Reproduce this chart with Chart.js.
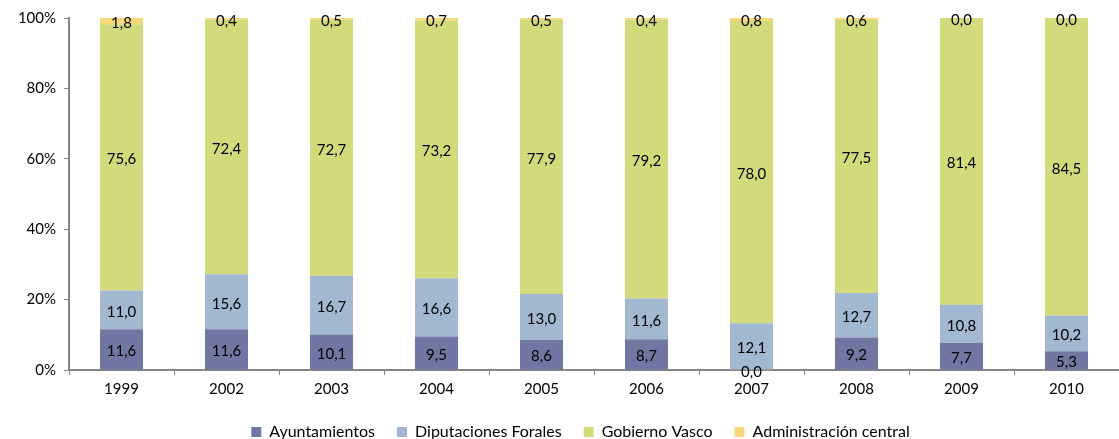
<!DOCTYPE html>
<html>
<head>
<meta charset="utf-8">
<script src="https://cdn.jsdelivr.net/npm/chart.js@4/dist/chart.umd.min.js"></script>
<style>
  html, body { margin: 0; padding: 0; background: #fff; }
  #wrap { width: 1119px; height: 439px; }
</style>
</head>
<body>
<div id="wrap"><canvas id="grafico"></canvas></div>
<script>
// datos del grafico
var anios = ['1999', '2002', '2003', '2004', '2005', '2006', '2007', '2008', '2009', '2010'];
var ayuntamientos = [11.6, 11.6, 10.1, 9.5, 8.6, 8.7, 0.0, 9.2, 7.7, 5.3];
var diputaciones = [11.0, 15.6, 16.7, 16.6, 13.0, 11.6, 12.1, 12.7, 10.8, 10.2];
var gobiernoVasco = [75.6, 72.4, 72.7, 73.2, 77.9, 79.2, 78.0, 77.5, 81.4, 84.5];
var administracion = [1.8, 0.4, 0.5, 0.7, 0.5, 0.4, 0.8, 0.6, 0.0, 0.0];
var ticksY = [0, 20, 40, 60, 80, 100];

var fuente = 'Lato, Calibri, sans-serif';

// total de cada anio para pasar a 100%
var totales = anios.map(function (a, i) {
    return ayuntamientos[i] + diputaciones[i] + gobiernoVasco[i] + administracion[i];
});
function aPorcentaje(serie) {
    return serie.map(function (v, i) { return v / totales[i] * 100; });
}

function serie(nombre, valores, color) {
    return {
        label: nombre,
        data: aPorcentaje(valores),
        valores: valores,
        backgroundColor: color,
        borderWidth: 0,
        categoryPercentage: 1,
        barPercentage: 0.41
    };
}

// plugin para escribir los valores dentro de las barras
var etiquetas = {
    id: 'etiquetas',
    afterDatasetsDraw: function (chart) {
        var ctx = chart.ctx;
        ctx.save();
        ctx.font = '15px ' + fuente;
        ctx.fillStyle = '#000';
        ctx.textAlign = 'center';
        ctx.textBaseline = 'middle';
        chart.data.datasets.forEach(function (ds, d) {
            var meta = chart.getDatasetMeta(d);
            meta.data.forEach(function (bar, i) {
                var y = (bar.y + bar.base) / 2;
                var txt = ds.valores[i].toFixed(1).replace('.', ',');
                ctx.fillText(txt, bar.x, y + 2);
            });
        });
        ctx.restore();
    }
};

// leyenda mas compacta: menos alto y dibujada un poco corrida
// (la leyenda recorta su caja, entonces se agranda solo al dibujar)
var leyendaBaja = {
    id: 'leyendaBaja',
    beforeInit: function (chart) {
        var leyenda = chart.legend;
        var fitAsli = leyenda.fit;
        var drawAsli = leyenda.draw;
        leyenda.fit = function () {
            fitAsli.apply(this, arguments);
            this.height -= 12;
        };
        leyenda.draw = function () {
            var ctx = this.ctx;
            var bawah = this.bottom;
            var kanan = this.right;
            this.bottom = bawah + 20;
            this.right = kanan + 30;
            ctx.save();
            ctx.translate(6, -1);
            drawAsli.apply(this, arguments);
            ctx.restore();
            this.bottom = bawah;
            this.right = kanan;
        };
    }
};

new Chart(document.getElementById('grafico'), {
    type: 'bar',
    data: {
        labels: anios,
        datasets: [
            serie('Ayuntamientos', ayuntamientos, '#6f77a2'),
            serie('Diputaciones Forales', diputaciones, '#a1b8d0'),
            serie('Gobierno Vasco', gobiernoVasco, '#d3da7c'),
            serie('Administración central', administracion, '#f9d87c')
        ]
    },
    options: {
        responsive: true,
        maintainAspectRatio: false,
        animation: false,
        layout: { padding: { top: 18, right: 0, left: 0, bottom: 0 } },
        plugins: {
            tooltip: { enabled: false },
            legend: {
                position: 'bottom',
                labels: {
                    font: { family: fuente, size: 16 },
                    color: '#000',
                    boxWidth: 10,
                    boxHeight: 10,
                    padding: 22
                }
            }
        },
        scales: {
            x: {
                stacked: true,
                grid: {
                    display: true,
                    drawOnChartArea: false,
                    offset: true,
                    tickLength: 5,
                    color: '#868686'
                },
                border: { color: '#868686', width: 2 },
                ticks: {
                    font: { family: fuente, size: 15 },
                    color: '#000',
                    padding: 5
                }
            },
            y: {
                stacked: true,
                min: 0,
                max: 100,
                afterBuildTicks: function (scale) {
                    scale.ticks = ticksY.map(function (v) { return { value: v }; });
                },
                afterFit: function (scale) { scale.width = 69; },
                grid: {
                    display: true,
                    drawOnChartArea: false,
                    tickLength: 5,
                    color: '#868686'
                },
                border: { color: '#868686', width: 2 },
                ticks: {
                    font: { family: fuente, size: 15 },
                    color: '#000',
                    padding: 8,
                    callback: function (v) { return v + '%'; }
                }
            }
        }
    },
    plugins: [etiquetas, leyendaBaja]
});
</script>
</body>
</html>
